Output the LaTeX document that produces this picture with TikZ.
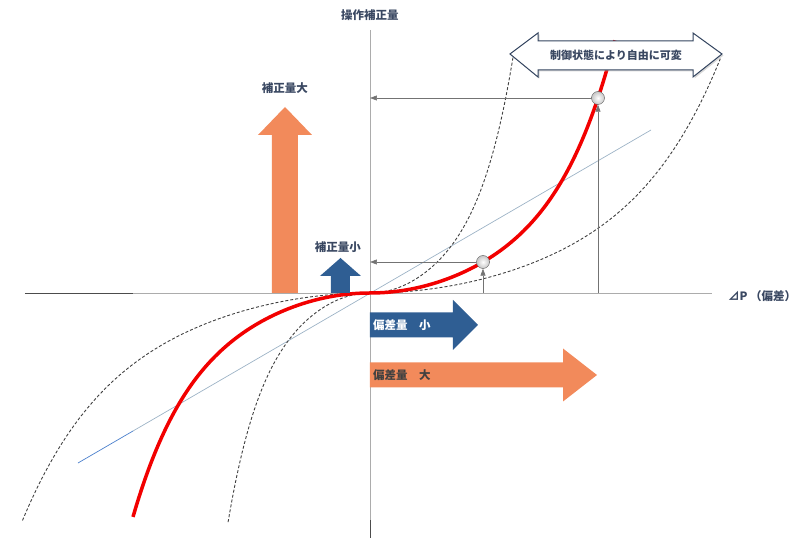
\documentclass[tikz,border=0pt]{standalone}
\usepackage{fontspec}
\setmainfont{Noto Sans CJK JP}
\usetikzlibrary{arrows.meta}
\usetikzlibrary{calc}
\definecolor{corange}{HTML}{F28A5B}
\definecolor{cblue}{HTML}{2F5E93}
\definecolor{clabel}{HTML}{3A4862}
\definecolor{cframe}{HTML}{33445F}
\definecolor{cline}{HTML}{9DB3C6}
\definecolor{clinedark}{HTML}{4A7FCC}
\newcommand{\drawblockarrow}[7]{
    \begin{scope}[shift={(#2)}]
        \begin{scope}[rotate=#3]
            \fill [#1] (0,-#5/2) -- (#4-#7,-#5/2) -- (#4-#7,-#6/2) -- (#4,0) -- (#4-#7,#6/2) -- (#4-#7,#5/2) -- (0,#5/2) -- cycle;
        \end{scope}
    \end{scope}
}
\newcommand{\drawreadout}[3]{
    \coordinate (#1x) at (#2,0);
    \coordinate (#1y) at (0,#3);
    \node [readout] (#1) at (#2,#3) {};
    \draw [refline, -{Triangle[length=7pt,width=5pt]}] (#1x) -- (#1.south);
    \draw [refline, -{Triangle[length=7pt,width=5pt]}] (#1.west) -- (#1y);
}
% curve y = corr(x/#1) from #2 to #3
\newcommand{\drawcorrcurve}[4]{
    \draw [#4] plot [domain=#2:#3, samples=160, smooth] ({#1*\x}, {corr(\x)});
}

\begin{document}
\begin{tikzpicture}[x=1pt, y=1pt,
    declare function={corr(\t)=23.43*\t*abs(\t)+0.521*\t*\t*\t*\t*\t*abs(\t);},
    axis/.style={draw=gray!65, line width=0.8pt},
    axisdark/.style={draw=black!70, line width=0.8pt},
    refline/.style={draw=gray!90!black, line width=0.6pt},
    readout/.style={circle, draw=gray!70!black, line width=0.4pt, shading=radial, inner color=white, outer color=gray!45, minimum size=13pt, inner sep=0pt},
    guide/.style={draw=black!75, line width=0.9pt, dash pattern=on 3pt off 2pt},
    jptext/.style={text=clabel, font=\bfseries\fontsize{11.5}{13}\selectfont, inner sep=0pt}]
    \useasboundingbox (-370,-245) rectangle (442,293);
    % axes
    \draw [axisdark] (-345,0) -- (-237,0);
    \draw [axis] (-237,0) -- (342,0);
    \draw [axis] (0,263) -- (0,-227);
    \draw [axisdark] (0,-227) -- (0,-245);
    % linear reference
    \draw [draw=clinedark, line width=0.7pt] (-292,-170) -- (-237,-138);
    \draw [draw=cline, line width=0.7pt] (-237,-138) -- (281,163);
    % limits of the variable curve
    \drawcorrcurve{59.5}{-2.385}{2.42}{guide};
    \drawcorrcurve{146}{-2.38}{2.40}{guide};
    % correction curve
    \drawcorrcurve{100}{-2.37}{2.45}{draw=red!95!black, line width=3.5pt};
    % block arrows
    \drawblockarrow{corange}{-85,0}{90}{186}{26}{54}{28};
    \drawblockarrow{cblue}{-29.5,0}{90}{35}{19}{41}{18};
    \drawblockarrow{cblue}{0,-32}{0}{108}{25}{50}{25};
    \drawblockarrow{corange}{0,-82}{0}{227}{25}{53}{34};
    % readouts
    \drawreadout{Psmall}{113}{31};
    \drawreadout{Plarge}{228}{195};
    % variable range
    \fill [black!30, opacity=0.5] (141.5,237.5) -- (169.5,258.5) -- (169.5,250.5) -- (324.5,250.5) -- (324.5,258.5) -- (353.5,237.5) -- (324.5,214.5) -- (324.5,221.5) -- (169.5,221.5) -- (169.5,214.5) -- cycle;
    \filldraw [fill=white, draw=cframe, line width=1pt] (140,239) -- (168,260) -- (168,252) -- (323,252) -- (323,260) -- (352,239) -- (323,216) -- (323,223) -- (168,223) -- (168,216) -- cycle;
    \node [jptext, font=\bfseries\fontsize{11}{13}\selectfont] (range) at (246,238) {制御状態により自由に可変};
    % labels
    \node [jptext] (ylabel) at (0,278) {操作補正量};
    \node [jptext, anchor=west] (xlabel) at (358,-3) {⊿P （偏差）};
    \node [jptext] (biglabel) at (-85,205) {補正量大};
    \node [jptext] (smalllabel) at (-32,46) {補正量小};
    \node [jptext, text=white, anchor=west] (devsmall) at (3,-32) {偏差量　小};
    \node [jptext, text=black!75, anchor=west] (devbig) at (3,-82) {偏差量　大};
\end{tikzpicture}
\end{document}
